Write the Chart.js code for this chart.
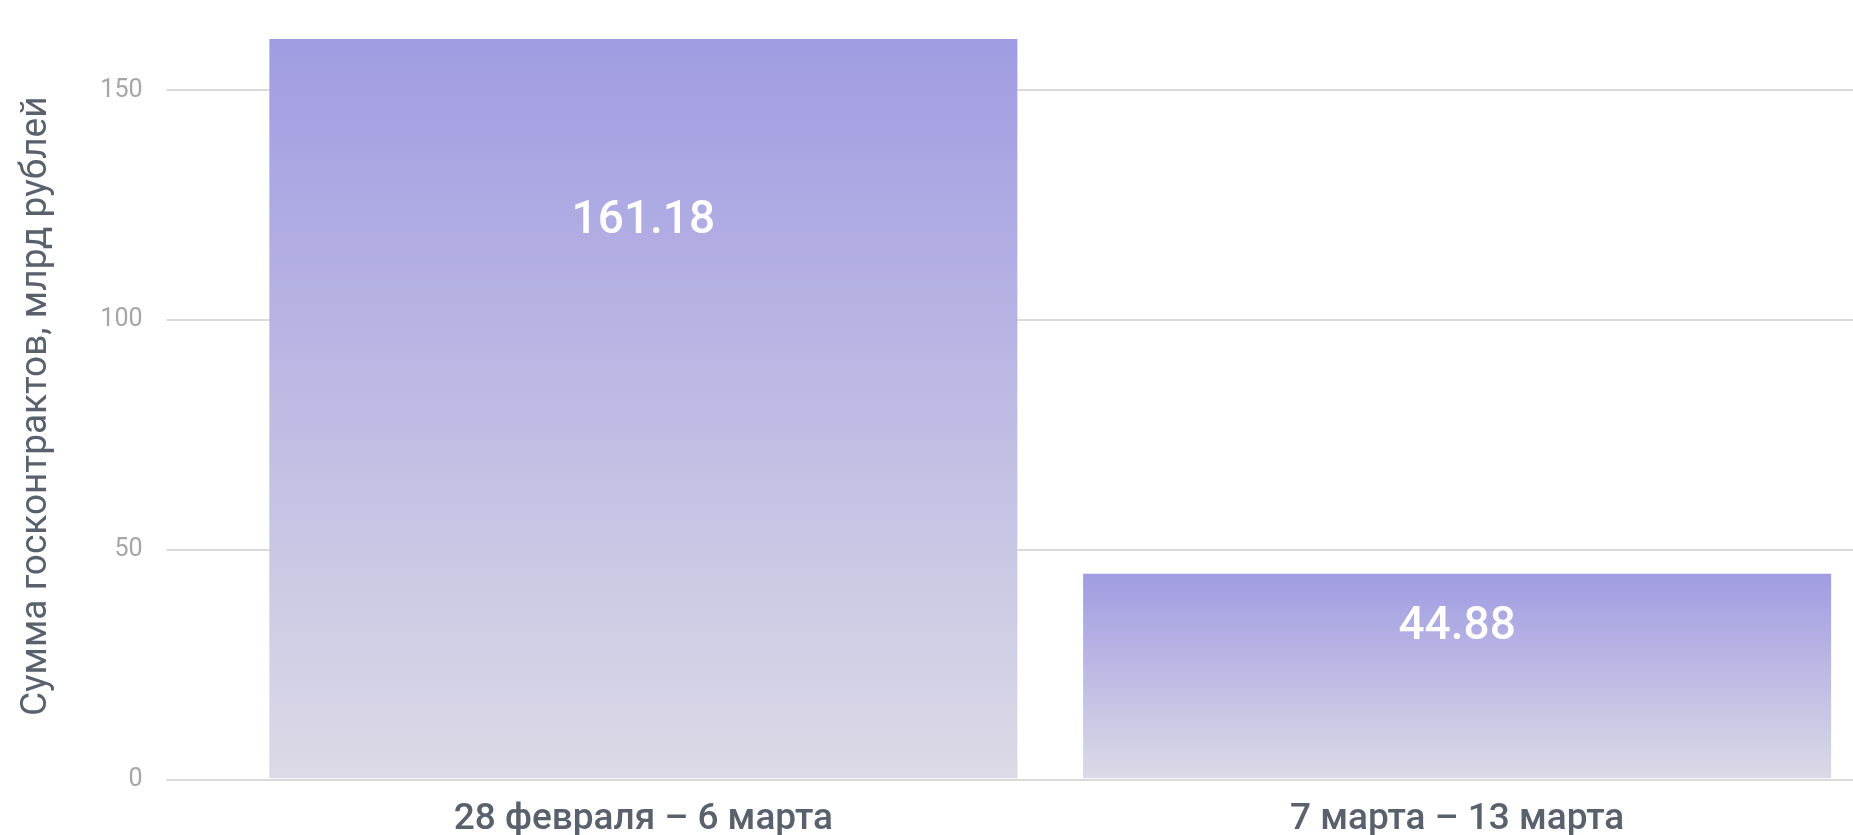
<!DOCTYPE html>
<html lang="ru">
<head>
<meta charset="utf-8">
<title>Сумма госконтрактов</title>
<script src="https://cdn.jsdelivr.net/npm/chart.js@4/dist/chart.umd.min.js"></script>
<style>
  html, body { margin: 0; padding: 0; background: #fff; overflow: hidden; }
  #wrap { position: relative; width: 1864px; height: 860px; }
</style>
</head>
<body>
<div id="wrap"><canvas id="contracts"></canvas></div>
<script>
// data
const weeks = ["28 февраля – 6 марта", "7 марта – 13 марта"];
const sums = [161.18, 44.88];
const yTicks = [0, 50, 100, 150];

const gradTop = "#a09ce2";
const gradBottom = "#dcdae6";

// fill each bar from its own top down to zero
function barGradient(context) {
  var chart = context.chart;
  if (!chart.chartArea || !chart.scales.y) return gradTop;
  var top = chart.scales.y.getPixelForValue(context.raw);
  var bottom = chart.scales.y.getPixelForValue(0);
  if (!isFinite(top) || !isFinite(bottom) || top === bottom) return gradTop;
  var g = chart.ctx.createLinearGradient(0, top, 0, bottom);
  g.addColorStop(0, gradTop);
  g.addColorStop(1, gradBottom);
  return g;
}

// white value labels inside the bars
const valueLabels = {
  id: "valueLabels",
  afterDatasetsDraw: function(chart) {
    var ctx = chart.ctx;
    var meta = chart.getDatasetMeta(0);
    ctx.save();
    ctx.font = "500 46px Roboto";
    ctx.fillStyle = "#ffffff";
    ctx.textAlign = "center";
    ctx.textBaseline = "alphabetic";
    meta.data.forEach(function(bar, i) {
      var y = bar.y + (bar.base - bar.y) * 0.24;
      ctx.fillText(sums[i].toFixed(2), bar.x, y + 16);
    });
    ctx.restore();
  }
};

var ctx = document.getElementById("contracts").getContext("2d");
var chart = new Chart(ctx, {
  type: "bar",
  data: {
    labels: weeks,
    datasets: [
      {
        label: "Сумма госконтрактов",
        data: sums,
        backgroundColor: barGradient,
        borderColor: "rgba(255,255,255,0.35)",
        borderWidth: { left: 1, right: 1, top: 0, bottom: 0 },
        borderSkipped: "bottom",
        categoryPercentage: 1,
        barPercentage: 0.9217
      }
    ]
  },
  options: {
    responsive: true,
    maintainAspectRatio: false,
    animation: false,
    layout: { padding: { top: 33, right: 0, bottom: 0, left: 0 } },
    plugins: {
      legend: { display: false },
      tooltip: { enabled: false }
    },
    scales: {
      x: {
        grid: { display: false, drawTicks: false },
        border: { display: false },
        ticks: {
          color: "#59626c",
          font: { family: "Roboto", size: 37, weight: "500" },
          padding: 18,
          maxRotation: 0
        }
      },
      y: {
        min: 0,
        max: 162.5,
        afterBuildTicks: function(scale) {
          scale.ticks = yTicks.map(function(v) { return { value: v }; });
        },
        afterFit: function(scale) {
          scale.width = 236.5;
          // keep the label half-heights from pushing the plot down
          scale.paddingTop = 0;
          scale.paddingBottom = 0;
        },
        grid: {
          color: "#dadada",
          lineWidth: 2,
          drawTicks: true,
          tickLength: 70
        },
        border: { display: false },
        ticks: {
          color: "#a6a6a6",
          font: { family: "Roboto", size: 25 },
          padding: 24,
          includeBounds: false
        },
        title: {
          display: true,
          text: "Сумма госконтрактов, млрд рублей",
          color: "#59626c",
          font: { family: "Roboto", size: 37 },
          padding: { top: 15, bottom: 0 }
        }
      }
    }
  },
  plugins: [valueLabels]
});
</script>
</body>
</html>
